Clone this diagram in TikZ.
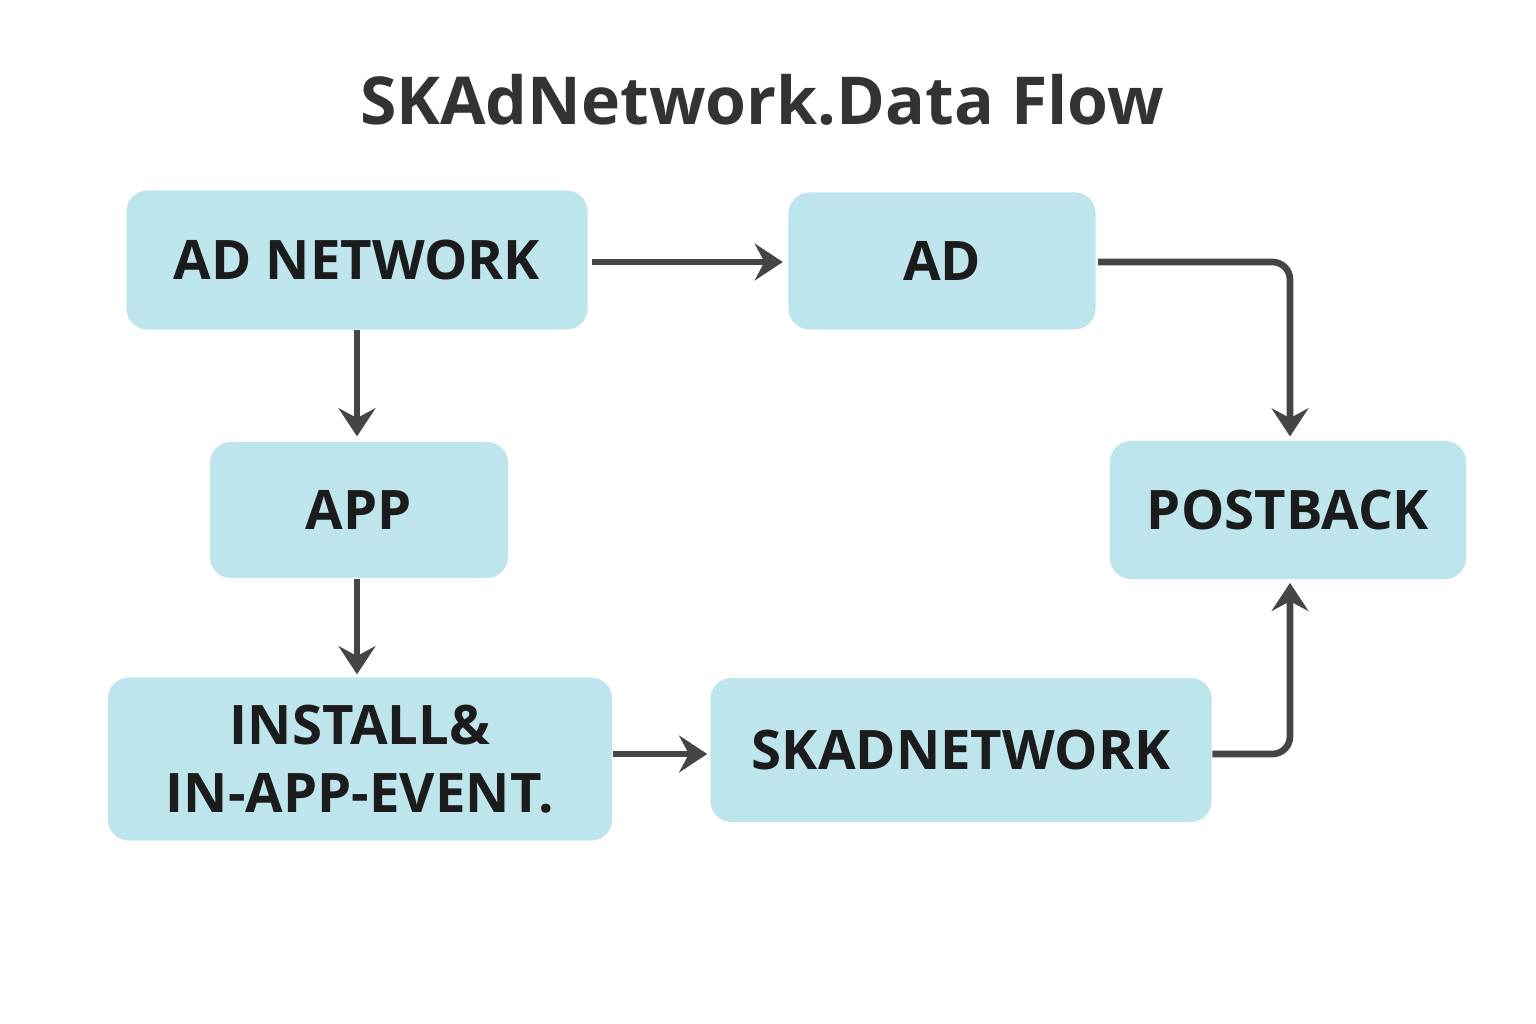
\documentclass[tikz,border=0pt]{standalone}
\usepackage{fontspec}
\setmainfont{Open Sans}
\usetikzlibrary{arrows.meta}
\definecolor{boxfill}{HTML}{BFE5EC}
\definecolor{linecol}{HTML}{454545}
\definecolor{txt}{HTML}{1C1C1C}
\definecolor{titlecol}{HTML}{333333}
\begin{document}
\begin{tikzpicture}[x=0.01cm,y=-0.01cm,
  flowbox/.style={fill=boxfill, draw=none, rounded corners=6pt, inner sep=0pt,
    align=center, text=txt, font=\fontsize{15.5}{19.5}\selectfont\bfseries},
  flowarrow/.style={draw=linecol, line width=1.9pt, rounded corners=5pt,
    -{Stealth[length=8pt,width=10.5pt,inset=2.8pt]}}]
\useasboundingbox (0,0) rectangle (1536,1024);
\node[font=\fontsize{18.8}{23}\selectfont\bfseries, text=titlecol] (title) at (762,100) {SKAdNetwork.Data Flow};
\node[flowbox, minimum width=4.61cm, minimum height=1.39cm] (adnet) at (357,260) {AD NETWORK};
\node[flowbox, minimum width=3.07cm, minimum height=1.37cm] (ad) at (942,261) {AD};
\node[flowbox, minimum width=2.98cm, minimum height=1.36cm] (app) at (359,510) {APP};
\node[flowbox, minimum width=3.56cm, minimum height=1.38cm] (post) at (1288,510) {POSTBACK};
\node[flowbox, minimum width=5.04cm, minimum height=1.63cm] (inst) at (360,759) {INSTALL\&\\IN-APP-EVENT.};
\node[flowbox, minimum width=5.01cm, minimum height=1.44cm] (skad) at (961,750) {SKADNETWORK};
\coordinate (r1) at (0,262);
\coordinate (r2) at (0,754);
\coordinate (k1) at (357,0);
\coordinate (c1) at (1290,262);
\coordinate (c2) at (1290,754);
\draw[flowarrow] ([xshift=1pt]adnet.east |- r1) -- ([xshift=-1.4pt]ad.west |- r1);
\draw[flowarrow] ([xshift=0.5pt]ad.east |- r1) -- (c1) -- ([yshift=1.1pt]post.north -| c1);
\draw[flowarrow] (adnet.south -| k1) -- ([yshift=1.4pt]app.north -| k1);
\draw[flowarrow] (app.south -| k1) -- ([yshift=0.7pt]inst.north -| k1);
\draw[flowarrow] (inst.east |- r2) -- ([xshift=-0.7pt]skad.west |- r2);
\draw[flowarrow] (skad.east |- r2) -- (c2) -- ([yshift=-0.9pt]post.south -| c2);
\end{tikzpicture}
\end{document}
